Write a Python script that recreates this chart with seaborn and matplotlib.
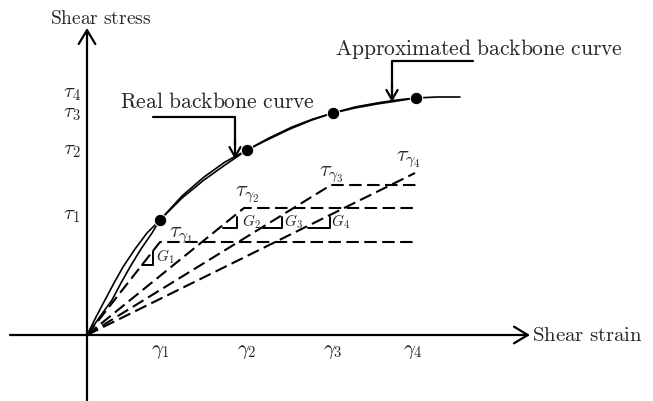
import numpy as np
import pandas as pd
import matplotlib.pyplot as plt
import seaborn as sns

# key points on the backbone curve (strain, stress) in drawing units
gamma_pts = [73, 160, 246, 329]
tau_pts = [115, 185, 222, 237]
gamma_tick_x = [73, 160, 246, 326]
tau_tick_y = [120, 185, 222, 242]

# real backbone curve
real_x = [0, 9, 18, 27, 36, 48, 60, 73, 95, 117, 138, 160, 182, 205, 226,
          246, 268, 290, 310, 329, 350, 373]
real_y = [0, 18, 35, 52, 68, 86, 102, 115, 139, 158, 173, 185, 197, 208, 216,
          222, 228, 232, 235, 237, 238, 238]
# approximated backbone curve
appr_x = [0, 12, 25, 34, 43, 54, 65, 73, 95, 117, 138, 160, 180, 203, 225,
          246, 268, 290, 310, 329]
appr_y = [0, 17, 35, 52, 68, 86, 102, 115, 137, 155, 170, 185, 195, 206, 215,
          222, 227, 231, 234, 237]

# secant (dashed) lines: kink point and yield level
kink_x = [73, 157, 244, 328]
kink_y = [93, 127, 150, 162]
dash_end = 330

# small slope triangles G1..G4: (x0, x1, y_low, y_high)
tri_x0 = [55, 136, 176, 221]
tri_x1 = [66, 150, 195, 243]
tri_ylo = [70, 107, 107, 107]
tri_yhi = [84, 118, 118, 118]

sns.set_theme(style="white")
plt.rcParams["mathtext.fontset"] = "cm"

fig = plt.figure(figsize=(6.53, 4.01), dpi=100)
ax = fig.add_axes([0, 0, 1, 1])
ax.set_xlim(-87, 566)
ax.set_ylim(-66, 335)
ax.axis("off")

# axes with open arrow heads
head = dict(arrowstyle="->,head_length=0.5,head_width=0.3", lw=1.6,
            color="black", shrinkA=0, shrinkB=0, mutation_scale=20)
ax.annotate("", xy=(443, 0), xytext=(-77, 0), arrowprops=head)
ax.annotate("", xy=(0, 307), xytext=(0, -66), arrowprops=head)

# backbone curves
sns.lineplot(x=real_x, y=real_y, sort=False, estimator=None, color="black",
             lw=1.2, ax=ax)
sns.lineplot(x=appr_x, y=appr_y, sort=False, estimator=None, color="black",
             lw=1.2, ax=ax)

# dashed secant lines with horizontal levels
dash = (0, (6, 2.6))
for i, (kx, ky) in enumerate(zip(kink_x, kink_y)):
    if i < 3:
        xs, ys = [0, kx, dash_end], [0, ky, ky]
    else:
        xs, ys = [0, kx], [0, ky]
    sns.lineplot(x=xs, y=ys, sort=False, estimator=None, color="black",
                 lw=1.5, linestyle=dash, ax=ax)

# slope triangles
for x0, x1, ylo, yhi in zip(tri_x0, tri_x1, tri_ylo, tri_yhi):
    sns.lineplot(x=[x0, x1, x1], y=[ylo, ylo, yhi], sort=False,
                 estimator=None, color="black", lw=1.4, ax=ax)

sns.scatterplot(x=gamma_pts, y=tau_pts, s=80, color="black", ax=ax, zorder=5)

# labels
fs = 15
for i, x in enumerate(gamma_tick_x):
    ax.text(x, -16, rf"$\gamma_{i + 1}$", ha="center", va="center", fontsize=fs)
for i, y in enumerate(tau_tick_y):
    ax.text(-15, y, rf"$\tau_{i + 1}$", ha="center", va="center", fontsize=fs)

tg_x = [94, 160, 244, 321]
tg_y = [99, 140, 160, 175]
for i, (x, y) in enumerate(zip(tg_x, tg_y)):
    ax.text(x, y, rf"$\tau_{{\gamma_{i + 1}}}$", ha="center", va="center",
            fontsize=16)

g_x = [78, 164, 206, 254]
g_y = [78, 113, 113, 113]
for i, (x, y) in enumerate(zip(g_x, g_y)):
    ax.text(x, y, rf"$G_{i + 1}$", ha="center", va="center", fontsize=11)

ax.text(14, 317, r"$\mathrm{Shear\ stress}$", ha="center", va="center",
        fontsize=14)
ax.text(445, 0, r"$\mathrm{Shear\ strain}$", ha="left", va="center",
        fontsize=15)
ax.text(130, 233, r"$\mathrm{Real\ backbone\ curve}$", ha="center",
        va="center", fontsize=15.5)
ax.text(536, 286, r"$\mathrm{Approximated\ backbone\ curve}$", ha="right",
        va="center", fontsize=15.5)

# pointer arrows to curves
ptr = dict(arrowstyle="->,head_length=0.35,head_width=0.2", lw=1.6,
           color="black", shrinkA=0, shrinkB=0, mutation_scale=20)
sns.lineplot(x=[66, 148, 148], y=[218, 218, 190], sort=False, estimator=None,
             color="black", lw=1.6, ax=ax)
ax.annotate("", xy=(148, 176), xytext=(148, 195), arrowprops=ptr)
sns.lineplot(x=[386, 305, 305], y=[274, 274, 245], sort=False, estimator=None,
             color="black", lw=1.6, ax=ax)
ax.annotate("", xy=(305, 233), xytext=(305, 250), arrowprops=ptr)

fig.savefig("out.png", dpi=100)
